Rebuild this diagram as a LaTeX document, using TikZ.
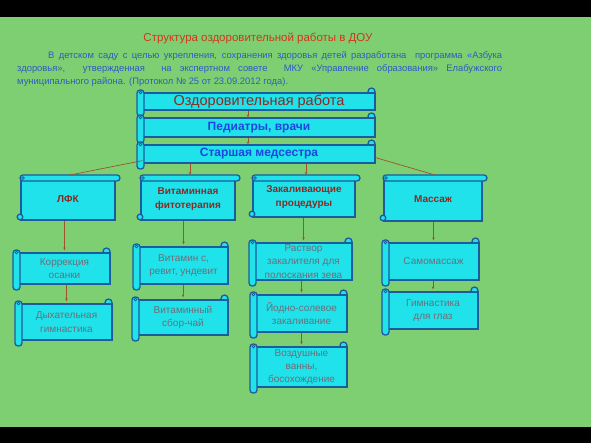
\documentclass[tikz,border=0pt]{standalone}
\usepackage{fontspec}
\setmainfont{Liberation Sans}
\usetikzlibrary{arrows.meta,calc}
\definecolor{bgc}{HTML}{7ECF72}
\definecolor{boxc}{HTML}{20E2EA}
\definecolor{bord}{HTML}{1A5C9E}
\definecolor{titc}{HTML}{D2361A}
\definecolor{parc}{HTML}{2E5BC4}
\definecolor{linec}{HTML}{A0522D}
\definecolor{darkred}{HTML}{8A2A22}
\definecolor{bluet}{HTML}{1F45E0}
\definecolor{grayt}{HTML}{6E6E78}
\tikzset{
  sbord/.style={draw=bord, line width=1.3pt},
  sbody/.style={draw=bord, fill=boxc, line width=1.3pt, inner sep=1pt, align=center},
  conn/.style={draw=linec, line width=0.7pt, -{Stealth[length=3pt,width=2.5pt]}},
  diag/.style={draw=linec, line width=0.7pt},
  toptext/.style={font=\fontsize{14.5}{16}\selectfont, text=darkred},
  midtext/.style={font=\fontsize{12}{14}\selectfont\bfseries, text=bluet},
  rowtwo/.style={font=\fontsize{10}{14}\selectfont\bfseries, text=darkred},
  lowtext/.style={font=\fontsize{10}{13.3}\selectfont, text=grayt}
}
% type B scroll: vertical roll at left, curl at top right
% #1 name, #2 x1, #3 y1, #4 x2, #5 y2 (body), #6 style, #7 text
\newcommand\scrollB[7]{%
  \draw[sbord, fill=boxc] ({#4-3.5},{#3-1.5}) circle[radius=3.5];
  \node[sbody, minimum width={#4-#2}, minimum height={#5-#3}, #6] (#1) at ({(#2+#4)/2},{(#3+#5)/2}) {#7};
  \draw[sbord, fill=boxc, rounded corners=3] ({#2-6},{#3-3}) rectangle ({#2+1},{#5+6});
  \draw[sbord, line width=0.8pt] ({#2-2.5},{#3-0.5}) circle[radius=1.4];
}
% type A scroll: roll on top, curl at bottom left
% #1 name, #2 x1, #3 y1 (roll top), #4 x2 (roll right), #5 y2 (body bottom), #6 style, #7 text
\newcommand\scrollA[7]{%
  \node[sbody, minimum width={#4-#2-6}, minimum height={#5-#3-3}, #6] (#1) at ({(#2+#4-6)/2+1},{(#3+3+#5)/2}) {#7};
  \draw[sbord, fill=boxc, rounded corners=3] (#2,#3) rectangle (#4,{#3+6});
  \draw[sbord, line width=0.8pt] ({#2+3},{#3+3}) circle[radius=1.4];
  \draw[sbord, fill=boxc] ({#2},{#5-3}) circle[radius=2.8];
  \coordinate (#1t) at ({(#2+#4)/2},#3);
}
\begin{document}
\begin{tikzpicture}[x=1pt,y=-1pt]
\useasboundingbox (0,0) rectangle (591,443);
\fill[black] (0,0) rectangle (591,443);
\fill[bgc] (0,17) rectangle (591,427);

\node[font=\fontsize{11.5}{13}\selectfont, text=titc] (title) at (258,38) {Структура оздоровительной работы в ДОУ};
\node[anchor=north west, inner sep=0pt, text=parc, font=\fontsize{9.4}{13}\selectfont] (par) at (17,51)
 {\parbox{485pt}{\parindent=31pt\indent В детском саду с целью укрепления, сохранения здоровья детей разработана \ программа «Азбука\linebreak
 здоровья», \ утвержденная \ на экспертном совете \ МКУ «Управление образования» Елабужского\linebreak
 муниципального района. (Протокол № 25 от 23.09.2012 года).}};

% top boxes
\scrollB{n1}{143}{93}{375}{110}{toptext}{Оздоровительная работа}
\scrollB{n2}{143}{118}{375}{137}{midtext}{Педиатры, врачи}
\scrollB{n3}{143}{145}{375}{163}{midtext}{Старшая медсестра}

% row 2
\scrollA{a1}{20}{175}{120}{220}{rowtwo}{ЛФК}
\scrollA{a2}{140}{175}{240}{220}{rowtwo}{Витаминная\\фитотерапия}
\scrollA{a3}{252}{175}{360}{217}{rowtwo}{Закаливающие\\процедуры}
\scrollA{a4}{383}{175}{487}{221}{rowtwo}{Массаж}

% row 3
\scrollB{b1}{19}{253}{110}{284}{lowtext}{Коррекция\\осанки}
\scrollB{b2}{139}{247}{228}{284}{lowtext}{Витамин с,\\ревит, ундевит}
\scrollB{b3}{255}{243}{352}{280}{lowtext}{Раствор\\закалителя для\\полоскания зева}
\scrollB{b4}{388}{243}{479}{280}{lowtext}{Самомассаж}

% row 4
\scrollB{c1}{21}{304}{112}{340}{lowtext}{Дыхательная\\гимнастика}
\scrollB{c2}{138}{300}{228}{335}{lowtext}{Витаминный\\сбор-чай}
\scrollB{c3}{256}{295}{347}{332}{lowtext}{Йодно-солевое\\закаливание}
\scrollB{c4}{388}{292}{478}{329}{lowtext}{Гимнастика\\для глаз}

% row 5
\scrollB{d1}{256}{347}{347}{387}{lowtext}{Воздушные\\ванны,\\босохождение}

% connectors
\draw[conn] ([xshift=-11pt]n1.south) -- ([xshift=-11pt]n2.north);
\draw[conn] ([xshift=-11pt]n2.south) -- ([xshift=-11pt]n3.north);
\draw[diag] ([yshift=3pt]n3.south west) -- (a1t);
\draw[diag] ([yshift=6pt]n3.south east) -- (a4t);
\draw[conn] (a2t |- n3.south) -- (a2t);
\draw[conn] (a3t |- n3.south) -- (a3t);

\draw[conn] (b1.north |- a1.south) -- ([yshift=2pt]b1.north);
\draw[conn] (b2.north |- a2.south) -- ([yshift=2pt]b2.north);
\draw[conn] (b3.north |- a3.south) -- ([yshift=2pt]b3.north);
\draw[conn] (b4.north |- a4.south) -- ([yshift=2pt]b4.north);

\draw[conn] (c1.north |- b1.south) -- ([yshift=2pt]c1.north);
\draw[conn] (c2.north |- b2.south) -- ([yshift=2pt]c2.north);
\draw[conn] (c3.north |- b3.south) -- ([yshift=2pt]c3.north);
\draw[conn] (c4.north |- b4.south) -- ([yshift=2pt]c4.north);

\draw[conn] (d1.north |- c3.south) -- ([yshift=2pt]d1.north);
\end{tikzpicture}
\end{document}
